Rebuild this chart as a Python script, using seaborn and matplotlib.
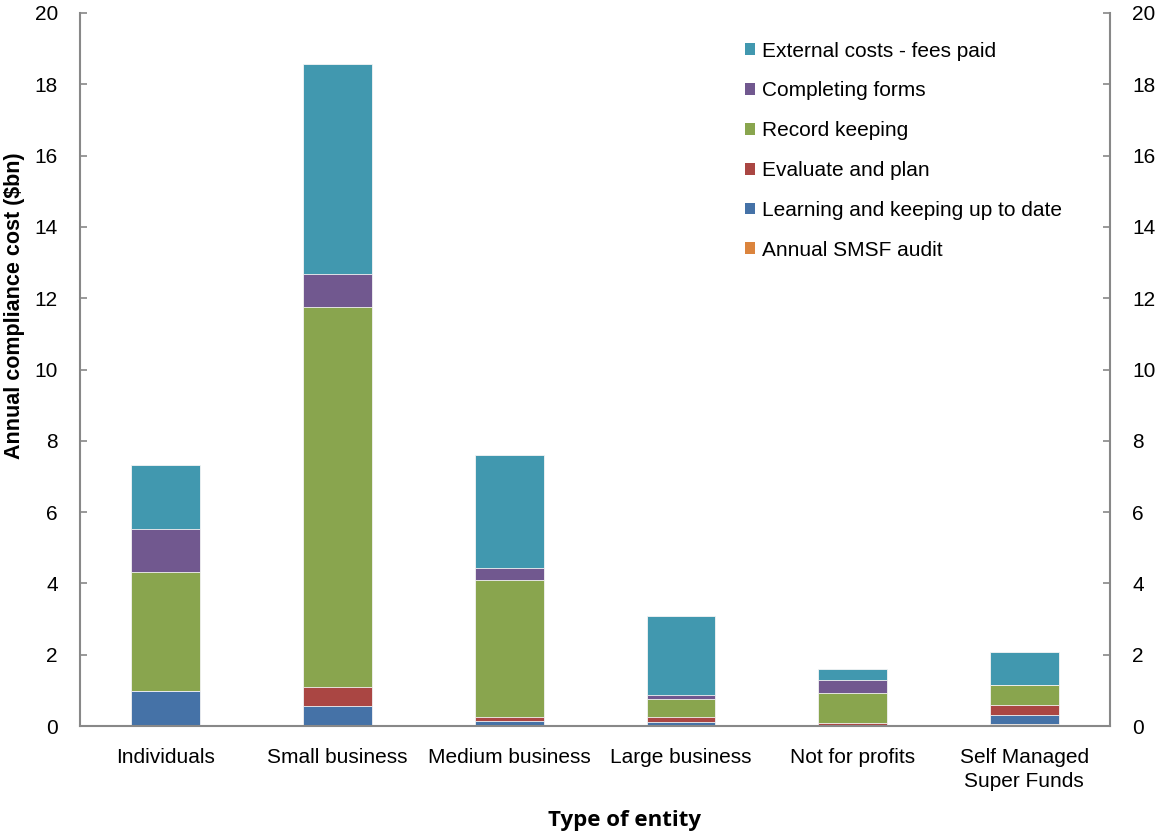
import matplotlib
matplotlib.use("Agg")
import matplotlib.pyplot as plt
import seaborn as sns
import numpy as np
import pandas as pd

categories = ["Individuals", "Small business", "Medium business", "Large business",
              "Not for profits", "Self Managed\nSuper Funds"]

# component values ($bn), bottom to top of the stack
annual_smsf_audit = [0.0, 0.0, 0.0, 0.0, 0.0, 0.07]
learning_keeping_up = [0.98, 0.56, 0.15, 0.10, 0.02, 0.23]
evaluate_and_plan = [0.0, 0.53, 0.11, 0.16, 0.06, 0.28]
record_keeping = [3.33, 10.65, 3.83, 0.51, 0.84, 0.56]
completing_forms = [1.21, 0.95, 0.33, 0.10, 0.38, 0.0]
external_costs = [1.79, 5.88, 3.17, 2.21, 0.29, 0.94]

series_names = ["Annual SMSF audit", "Learning and keeping up to date", "Evaluate and plan",
                "Record keeping", "Completing forms", "External costs - fees paid"]
series_values = [annual_smsf_audit, learning_keeping_up, evaluate_and_plan,
                 record_keeping, completing_forms, external_costs]
series_colors = ["#DB843D", "#4572A7", "#AA4643", "#89A54E", "#71588F", "#4198AF"]

y_ticks = [0, 2, 4, 6, 8, 10, 12, 14, 16, 18, 20]

sns.set_style("white")
plt.rcParams["font.family"] = ["Liberation Sans", "DejaVu Sans"]
plt.rcParams["text.color"] = "black"
plt.rcParams["xtick.color"] = "black"
plt.rcParams["ytick.color"] = "black"
plt.rcParams["axes.labelcolor"] = "black"

W, H = 1158, 832
fig = plt.figure(figsize=(W / 100, H / 100), dpi=100)
ax = fig.add_axes([80 / W, (H - 726) / H, (1110 - 80) / W, (726 - 13) / H])

# cumulative stacks; draw tallest first so lower segments overlay
cum = np.cumsum(np.array(series_values), axis=0)
for i in range(len(series_names) - 1, -1, -1):
    df = pd.DataFrame({"entity": categories, "value": cum[i]})
    sns.barplot(data=df, x="entity", y="value", order=categories, color=series_colors[i],
                saturation=1, width=0.4, errorbar=None, label=series_names[i],
                edgecolor="#f4f4f4", linewidth=0.6, ax=ax)

ax.set_ylim(0, 20)
ax.set_xlim(-0.5, len(categories) - 0.5)
ax.set_yticks(y_ticks)
ax.set_yticklabels([str(t) for t in y_ticks])
ax.tick_params(axis="y", which="both", left=True, right=True, labelleft=True, labelright=True,
               direction="in", length=5, width=1.2, color="#888888", labelcolor="black",
               labelsize=15, pad=16)
ax.set_xticks(range(len(categories)))
ax.set_xticklabels(categories, linespacing=1.3)
ax.set_xticks(np.arange(0.5, len(categories) - 1, 1.0), minor=True)
ax.tick_params(axis="x", which="major", length=0, labelsize=15, pad=16, labelcolor="black")
ax.tick_params(axis="x", which="minor", direction="in", length=6, width=1.2, color="#888888")

for s in ["left", "right", "bottom"]:
    ax.spines[s].set_color("#888888")
    ax.spines[s].set_linewidth(1.5)
ax.spines["top"].set_visible(False)

ax.set_ylabel("Annual compliance cost ($bn)", fontsize=15.5, fontweight="bold", color="black")
ax.yaxis.set_label_coords(-0.053, 0.59)
ax.set_xlabel("Type of entity", fontsize=16, fontweight="bold", color="black",
              family=["Open Sans", "DejaVu Sans"])
ax.xaxis.set_label_coords(0.529, -0.118)

leg = ax.legend(loc="upper left", bbox_to_anchor=(0.6456, 0.96), frameon=False, fontsize=15,
                handlelength=0.5, handleheight=0.5, handletextpad=0.3, labelspacing=1.0,
                borderpad=0, borderaxespad=0)
for h in leg.legend_handles:
    h.set_edgecolor("none")

fig.savefig("out.png", dpi=100)
